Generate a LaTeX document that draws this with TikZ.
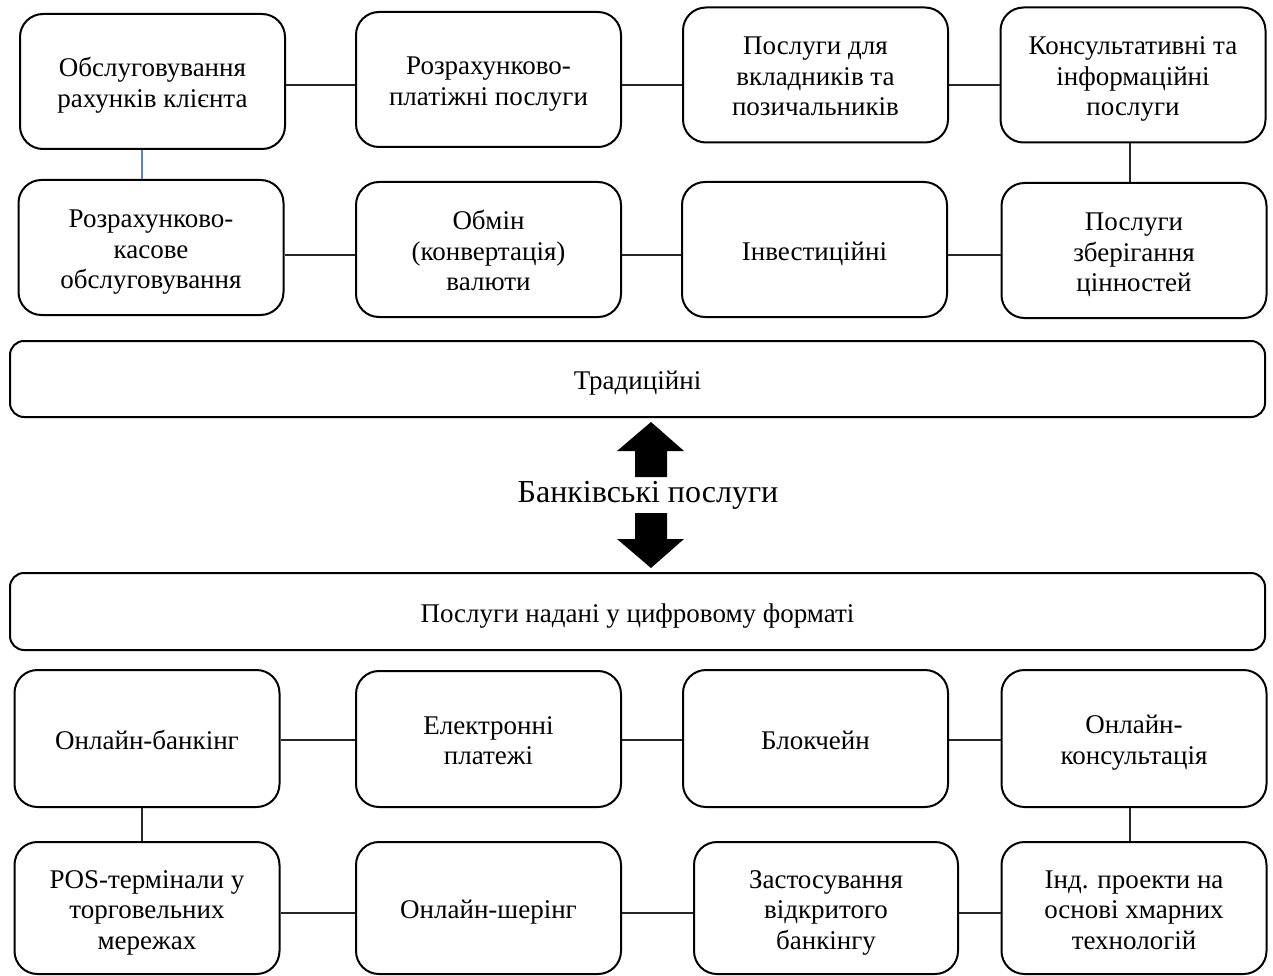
\documentclass[tikz,border=0pt]{standalone}
\usepackage{fontspec}
\setmainfont{Liberation Serif}
\definecolor{linkblue}{RGB}{91,134,196}
\newcommand{\fstrut}{\rule{0pt}{27pt}}
\newcommand{\lstrut}{\rule[-6pt]{0pt}{6pt}}
\begin{document}
\begin{tikzpicture}[x=1pt,y=-1pt,
  boxtext/.style={align=center, inner sep=0pt, font=\fontsize{27}{30.5}\selectfont},
  box/.style={draw, line width=2pt, rounded corners=23pt, boxtext,
    minimum width=265pt, minimum height=135pt},
  widebox/.style={draw, line width=2pt, rounded corners=14pt, boxtext,
    minimum width=1255pt, minimum height=76pt},
  conn/.style={draw=black!85, line width=1.3pt},
  blueconn/.style={draw=linkblue, line width=1.3pt},
  blockarrow/.style={fill=black, draw=none}]
\useasboundingbox (0,0) rectangle (1273,976);
% row 1
\node[box] (A) at (152.5,81.5) {\fstrut Обслуговування\\рахунків клієнта\lstrut};
\node[box] (B) at (488.5,79.5) {\fstrut Розрахунково-\\платіжні послуги\lstrut};
\node[box] (C) at (815.5,75) {\fstrut Послуги для\\вкладників та\\позичальників\lstrut};
\node[box] (D) at (1133,75) {\fstrut Консультативні та\\інформаційні\\послуги\lstrut};
% row 2
\node[box] (E) at (151,247.5) {\fstrut Розрахунково-\\касове\\обслуговування\lstrut};
\node[box] (F) at (488.5,249.5) {\fstrut Обмін\\(конвертація)\\валюти\lstrut};
\node[box] (G) at (814.5,249.5) {\fstrut Інвестиційні\lstrut};
\node[box] (H) at (1134,250.5) {\fstrut Послуги\\зберігання\\цінностей\lstrut};
% wide boxes
\node[widebox] (T) at (637.5,379) {\fstrut Традиційні\lstrut};
\node[widebox, minimum height=77pt] (Dg) at (637.5,611.5) {\fstrut Послуги надані у цифровому форматі\lstrut};
% middle label
\node[font=\fontsize{32}{36}\selectfont, inner sep=0pt] (lbl) at (648,495) {Банківські послуги};
% row 3
\node[box, minimum height=137pt] (I) at (147,738.5) {\fstrut Онлайн-банкінг\lstrut};
\node[box, minimum height=136pt] (J) at (488.5,739) {\fstrut Електронні\\платежі\lstrut};
\node[box, minimum height=137pt] (K) at (815.5,738.5) {\fstrut Блокчейн\lstrut};
\node[box, minimum height=137pt] (L) at (1134,738.5) {\fstrut Онлайн-\\консультація\lstrut};
% row 4
\node[box, minimum height=132pt] (M) at (147,908) {\fstrut POS-термінали у\\торговельних\\мережах\lstrut};
\node[box, minimum height=132pt] (N) at (488.5,908) {\fstrut Онлайн-шерінг\lstrut};
\node[box, minimum height=132pt, minimum width=264pt] (O) at (826,908) {\fstrut Застосування\\відкритого\\банкінгу\lstrut};
\node[box, minimum height=132pt] (P) at (1134,908) {\fstrut Інд. проекти на\\основі хмарних\\технологій\lstrut};
% connectors traditional
\draw[conn] (A.east |- 0,85) -- (B.west |- 0,85);
\draw[conn] (B.east |- 0,85) -- (C.west |- 0,85);
\draw[conn] (C.east |- 0,85) -- (D.west |- 0,85);
\draw[blueconn] (A.south -| 142,0) -- (E.north -| 142,0);
\draw[conn] (D.south -| 1130,0) -- (H.north -| 1130,0);
\draw[conn] (E.east |- 0,255) -- (F.west |- 0,255);
\draw[conn] (F.east |- 0,255) -- (G.west |- 0,255);
\draw[conn] (G.east |- 0,255) -- (H.west |- 0,255);
% connectors digital
\draw[conn] (I.east |- 0,740) -- (J.west |- 0,740);
\draw[conn] (J.east |- 0,740) -- (K.west |- 0,740);
\draw[conn] (K.east |- 0,740) -- (L.west |- 0,740);
\draw[conn] (I.south -| 142,0) -- (M.north -| 142,0);
\draw[conn] (L.south -| 1130,0) -- (P.north -| 1130,0);
\draw[conn] (M.east |- 0,913) -- (N.west |- 0,913);
\draw[conn] (N.east |- 0,913) -- (O.west |- 0,913);
\draw[conn] (O.east |- 0,913) -- (P.west |- 0,913);
% block arrows
\fill[blockarrow] (651,422) -- (684,451) -- (667,451) -- (667,477) -- (635,477) -- (635,451) -- (617,451) -- cycle;
\fill[blockarrow] (651,568) -- (684,539) -- (667,539) -- (667,513) -- (635,513) -- (635,539) -- (617,539) -- cycle;
\end{tikzpicture}
\end{document}
